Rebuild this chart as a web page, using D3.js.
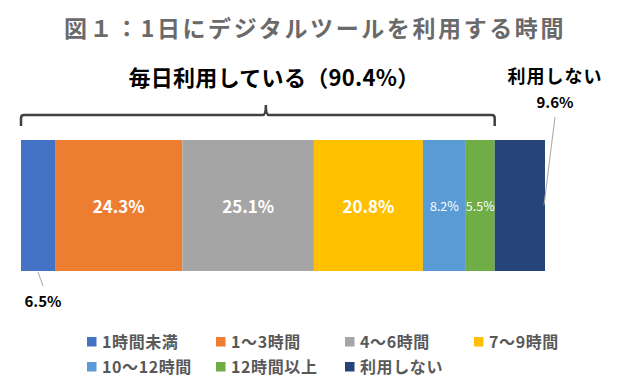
<!DOCTYPE html>
<html>
<head>
<meta charset="utf-8">
<script src="https://cdn.jsdelivr.net/npm/d3@7"></script>
<style>
  body { margin: 0; background: #fff; }
  text { font-family: "Noto Sans CJK JP", "Noto Sans", sans-serif; }
</style>
</head>
<body>
<div id="viz"></div>
<script>
// chart data
var categories = ['1時間未満', '1～3時間', '4～6時間', '7～9時間', '10～12時間', '12時間以上', '利用しない'];
var shares = [6.5, 24.3, 25.1, 20.8, 8.2, 5.5, 9.6];
var colors = ['#4472C4', '#ED7D31', '#A5A5A5', '#FFC000', '#5B9BD5', '#70AD47', '#264478'];
var title = '図１：1日にデジタルツールを利用する時間';
var dailyLabel = '毎日利用している（90.4%）';
var notUsedLabel = '利用しない';

var svg = d3.select('#viz').append('svg')
  .attr('width', 631)
  .attr('height', 379);

// horizontal scale for the stacked bar
var x = d3.scaleLinear()
  .domain([0, d3.sum(shares)])
  .range([21, 545]);

var barTop = 140, barH = 131;

// cumulative starts
var starts = [];
var acc = 0;
shares.forEach(function(v) { starts.push(acc); acc += v; });

// title
svg.append('text')
  .attr('x', 315)
  .attr('y', 37)
  .attr('text-anchor', 'middle')
  .attr('style', 'font-size: 23px; font-weight: bold; fill: #6a6a6a; letter-spacing: 2.6px')
  .text(title);

// bar segments
svg.append('g').selectAll('rect')
  .data(shares)
  .enter()
  .append('rect')
  .attr('x', function(d, i) { return x(starts[i]); })
  .attr('y', barTop)
  .attr('width', function(d) { return x(d) - x(0); })
  .attr('height', barH)
  .attr('fill', function(d, i) { return colors[i]; });

// labels inside the segments
svg.append('g').selectAll('text')
  .data(shares)
  .enter()
  .filter(function(d, i) { return i >= 1 && i <= 5; })
  .append('text')
  .attr('x', function(d) { var i = shares.indexOf(d); return x(starts[i] + d / 2); })
  .attr('y', function(d) { return d > 10 ? 213 : 211; })
  .attr('text-anchor', 'middle')
  .attr('fill', '#fff')
  .attr('style', function(d) {
    return d > 10 ? 'font-size: 17px; font-weight: bold' : 'font-size: 12.5px';
  })
  .text(function(d) { return d.toFixed(1) + '%'; });

// 6.5% label below with leader line
svg.append('line')
  .attr('x1', x(shares[0] / 2)).attr('y1', 272)
  .attr('x2', x(shares[0] / 2) + 5).attr('y2', 286)
  .attr('stroke', '#a6a6a6').attr('stroke-width', 1);
svg.append('text')
  .attr('x', 43).attr('y', 307)
  .attr('text-anchor', 'middle')
  .attr('style', 'font-size: 15px; font-weight: bold; fill: #000')
  .text(shares[0].toFixed(1) + '%');

// "not used" label above right with leader line
svg.append('line')
  .attr('x1', 555).attr('y1', 117)
  .attr('x2', 544).attr('y2', 205)
  .attr('stroke', '#a6a6a6').attr('stroke-width', 1);
svg.append('text')
  .attr('x', 555).attr('y', 83)
  .attr('text-anchor', 'middle')
  .attr('style', 'font-size: 18px; font-weight: bold; fill: #000; letter-spacing: 1px')
  .text(notUsedLabel);
svg.append('text')
  .attr('x', 555).attr('y', 108)
  .attr('text-anchor', 'middle')
  .attr('style', 'font-size: 15px; font-weight: bold; fill: #000')
  .text(shares[6].toFixed(1) + '%');

// brace over the daily users (tip sits a little right of centre, as in the original)
var bx0 = x(0), bx1 = x(starts[6]), bmid = (bx0 + bx1) / 2 + 8;
var by = 115;
var brace = d3.path();
brace.moveTo(bx0, 126);
brace.lineTo(bx0, by + 3);
brace.quadraticCurveTo(bx0, by, bx0 + 3, by);
brace.lineTo(bmid - 3, by);
brace.quadraticCurveTo(bmid, by, bmid, 105);
brace.quadraticCurveTo(bmid, by, bmid + 3, by);
brace.lineTo(bx1 - 3, by);
brace.quadraticCurveTo(bx1, by, bx1, by + 3);
brace.lineTo(bx1, 126);
svg.append('path')
  .attr('d', brace.toString())
  .attr('style', 'fill: none; stroke: #404040; stroke-width: 2.5px');

svg.append('text')
  .attr('x', 274).attr('y', 86)
  .attr('text-anchor', 'middle')
  .attr('style', 'font-size: 22px; font-weight: bold; fill: #000; letter-spacing: 0.3px')
  .text(dailyLabel);

// legend
var legendX = [87, 216, 345, 474];
var legend = svg.append('g').selectAll('g')
  .data(categories)
  .enter()
  .append('g')
  .attr('transform', function(d, i) {
    return 'translate(' + legendX[i % 4] + ',' + (i < 4 ? 337 : 362) + ')';
  });
legend.append('rect')
  .attr('width', 9.5).attr('height', 9.5)
  .attr('fill', function(d, i) { return colors[i]; });
legend.append('text')
  .attr('x', 15).attr('y', 11)
  .attr('style', 'font-size: 16px; font-weight: bold; fill: #595959; letter-spacing: 0.6px')
  .text(function(d) { return d; });
</script>
</body>
</html>
